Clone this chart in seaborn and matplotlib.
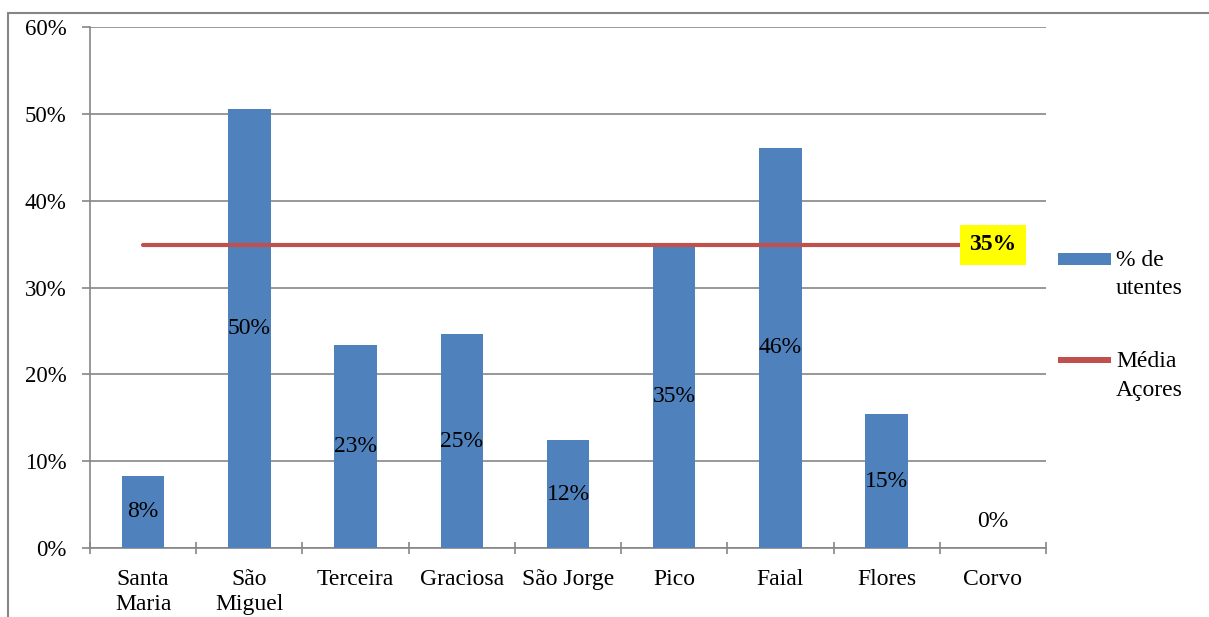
import numpy as np
import pandas as pd
import matplotlib
matplotlib.use("Agg")
import matplotlib.pyplot as plt
from matplotlib.lines import Line2D
from matplotlib.patches import Rectangle
from matplotlib.legend_handler import HandlerPatch
import seaborn as sns

# data
islands = ["Santa\nMaria", "São\nMiguel", "Terceira", "Graciosa", "São Jorge",
           "Pico", "Faial", "Flores", "Corvo"]
pct_utentes = [8.3, 50.5, 23.4, 24.6, 12.4, 34.9, 46.1, 15.4, 0.0]
bar_labels = ["8%", "50%", "23%", "25%", "12%", "35%", "46%", "15%", "0%"]
media_acores = 34.9
media_label = "35%"
legend_labels = ["% de\nutentes", "Média\nAçores"]

df = pd.DataFrame({"ilha": islands, "pct": pct_utentes})

sns.set_theme(style="white", rc={"text.color": "black", "xtick.color": "black",
                                 "ytick.color": "black"})
plt.rcParams["font.family"] = ["Liberation Serif", "DejaVu Serif"]

BLUE = "#4f81bd"
RED = "#c0504d"
GRID = "#868686"
FS = 17

W, H = 1209, 617
fig = plt.figure(figsize=(W / 100, H / 100), dpi=100)
ax = fig.add_axes([90 / W, (H - 548) / H, 956 / W, 521 / H])

sns.barplot(data=df, x="ilha", y="pct", color=BLUE, saturation=1, width=0.4,
            linewidth=0, ax=ax, zorder=3)

# mean line across the categories
xs = np.arange(len(islands))
sns.lineplot(x=xs, y=[media_acores] * len(xs), color=RED, linewidth=3,
             ax=ax, zorder=4)

ax.set_xlim(-0.5, len(islands) - 0.5)
ax.set_ylim(0, 60)
ax.set_yticks(np.arange(0, 61, 10))
ax.set_yticklabels([f"{v}%" for v in range(0, 61, 10)], fontsize=16.5)
ax.yaxis.grid(True, color=GRID, linewidth=1.2, zorder=0)
ax.set_axisbelow(True)
ax.set_xlabel("")
ax.set_ylabel("")

# category ticks sit between the bars
ax.set_xticks(xs)
ax.set_xticklabels(islands, fontsize=FS, linespacing=1.27)
ax.tick_params(axis="x", which="major", bottom=True, length=0, pad=15)
ax.set_xticks(np.arange(-0.5, len(islands), 1.0), minor=True)
ax.tick_params(axis="x", which="minor", bottom=True, length=8, width=1.2,
               color=GRID, direction="inout")
ax.tick_params(axis="y", left=True, length=6, width=1.2, color=GRID,
               direction="out", pad=11)

for s in ["top", "right"]:
    ax.spines[s].set_visible(False)
for s in ["left", "bottom"]:
    ax.spines[s].set_color(GRID)
    ax.spines[s].set_linewidth(1.2)

# value labels centred in each bar
for i, (v, lab) in enumerate(zip(pct_utentes, bar_labels)):
    y = v / 2 if v > 0 else 3
    ax.text(i, y, lab, ha="center", va="center", fontsize=FS, zorder=5)

ax.text(len(islands) - 1, media_acores, media_label, ha="center", va="center",
        fontsize=FS, fontweight="bold", zorder=6,
        bbox=dict(boxstyle="square,pad=0.4", facecolor="yellow", edgecolor="none"))


# legend handles sit level with the first line of their two-line label
def top_patch(legend, orig_handle, xdescent, ydescent, width, height, fontsize):
    h = orig_handle.get_height()
    return Rectangle((-xdescent, -ydescent + height * 0.9 - h / 2), width, h)


bar_h = Rectangle((0, 0), 1, 9, facecolor=BLUE, edgecolor="none")
line_h = Rectangle((0, 0), 1, 4, facecolor=RED, edgecolor="none")
leg = fig.legend([bar_h, line_h], legend_labels, loc="upper left",
                 bbox_to_anchor=(1037 / W, 1 - 229 / H), frameon=False, fontsize=FS,
                 handlelength=2.25, handleheight=2.3, handletextpad=0.2,
                 labelspacing=2.2,
                 handler_map={Rectangle: HandlerPatch(patch_func=top_patch)})
for t in leg.get_texts():
    t.set_linespacing(1.45)

# outer frame lines (top and left)
fig.add_artist(Line2D([8 / W, 1], [1 - 13 / H, 1 - 13 / H], color=GRID, linewidth=1.5,
                      transform=fig.transFigure))
fig.add_artist(Line2D([8 / W, 8 / W], [0, 1 - 13 / H], color=GRID, linewidth=1.5,
                      transform=fig.transFigure))

fig.savefig("out.png", dpi=100)
